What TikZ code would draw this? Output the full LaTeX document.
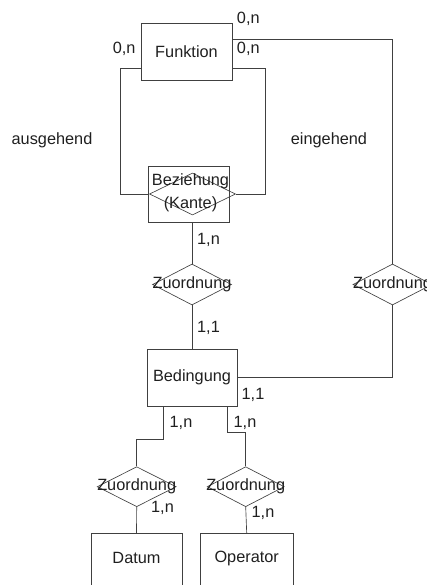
\documentclass[tikz,border=0pt]{standalone}
\usepackage{fontspec}
\setmainfont{Liberation Sans}
\usetikzlibrary{shapes.geometric,calc}

\begin{document}
\begin{tikzpicture}[x=1pt,y=-1pt,
  every node/.style={font=\fontsize{16.3}{23}\selectfont, text=black!88},
  entity/.style={draw=black!75, line width=0.65pt, rectangle, inner sep=0pt},
  rel/.style={draw=black!75, line width=0.65pt, diamond, inner sep=0pt,
              minimum width=79pt, minimum height=41pt},
  card/.style={inner sep=0pt},
  conn/.style={draw=black!75, line width=0.65pt}
]
\useasboundingbox (0,0) rectangle (427,585);
\clip (0,0) rectangle (427,585);

% entities
\node[entity, minimum width=91pt, minimum height=57pt] (funk) at (186.5,51.5) {Funktion};
\node[entity, minimum width=81pt, minimum height=56pt] (bez) at (188.4,194) {};
\node[rel, minimum width=86pt, minimum height=42pt] (bezd) at (192.5,194) {};
\node[align=center, inner sep=0pt] (bezt) at (190.5,192.5) {Beziehung\\(Kante)};
\node[entity, minimum width=90pt, minimum height=57pt] (bed) at (192,377.5) {Bedingung};
\node[entity, minimum width=91pt, minimum height=60pt, anchor=north,
      label={[yshift=5pt]center:Datum}] (dat) at (136.5,533) {};
\node[entity, minimum width=93pt, minimum height=60pt, anchor=north,
      label={[yshift=5pt]center:Operator}] (op) at (246.7,533) {};

% relationships
\node[rel, label=center:Zuordnung] (z1) at (192,284.5) {};
\node[rel, label=center:Zuordnung] (z2) at (392.5,284.5) {};
\node[rel, minimum height=40pt, label=center:Zuordnung] (z3) at (136.7,486.7) {};
\node[rel, minimum width=77pt, minimum height=40pt, label=center:Zuordnung] (z4) at (245.7,486.7) {};

% connectors
\draw[conn] ($(funk.west)+(0,16.5)$) -- ++(-20.3,0) |- (bezd.west);
\draw[conn] ($(funk.east)+(0,16.5)$) -- ++(33,0) |- (bezd.east);
\draw[conn] ($(funk.east)+(0,-12.3)$) -| (z2.north);
\draw[conn] (z1.north |- bez.south) -- (z1.north);
\draw[conn] (z1.south) -- (bed.north);
\draw[conn] (bed.east) -| (z2.south);
\draw[conn] ($(bed.south)+(-28.7,0)$) -- ++(0,32.6) -| (z3.north);
\draw[conn] ($(bed.south)+(35.7,0)$) -- ++(0,26) -| (z4.north);
\draw[conn] (z3.south) -- (dat.north);
\draw[conn] (z4.south) -- (op.north);

% side labels
\node (aus) at (52,140) {ausgehend};
\node (ein) at (329,140) {eingehend};

% cardinalities
\node[card] (c1) at (248.3,19) {0,n};
\node[card] (c2) at (124.2,49) {0,n};
\node[card] (c3) at (248.3,49) {0,n};
\node[card] (c4) at (208.5,240) {1,n};
\node[card] (c5) at (208.5,328) {1,1};
\node[card] (c6) at (253,395) {1,1};
\node[card] (c7) at (181,423) {1,n};
\node[card] (c8) at (245,423) {1,n};
\node[card] (c9) at (162.5,508) {1,n};
\node[card] (c10) at (263,513) {1,n};
\end{tikzpicture}
\end{document}
